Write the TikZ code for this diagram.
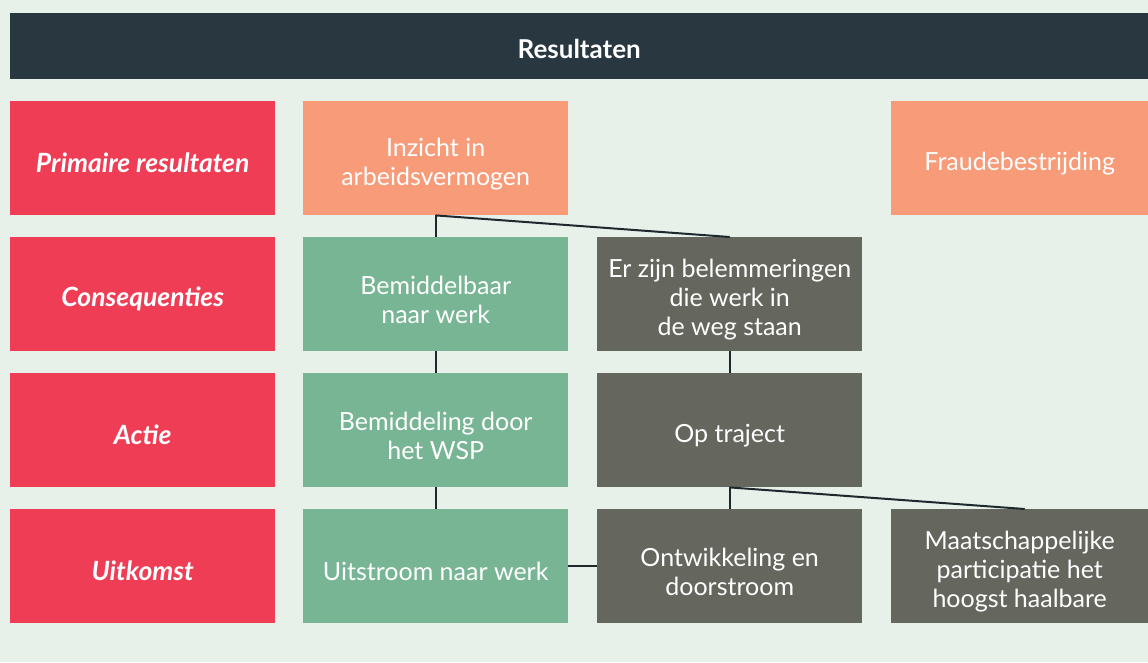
\documentclass[tikz,border=0pt]{standalone}
\usepackage{fontspec}
\setmainfont{Lato}
\definecolor{bg}{RGB}{231,241,234}
\definecolor{head}{RGB}{40,55,64}
\definecolor{c1}{RGB}{238,61,85}
\definecolor{c2}{RGB}{247,155,120}
\definecolor{c3}{RGB}{120,181,149}
\definecolor{c4}{RGB}{101,102,93}
\definecolor{lnk}{RGB}{31,40,44}

\begin{document}
\begin{tikzpicture}[
    x=1pt, y=-1pt,
    box/.style={
        anchor=north west, inner sep=0pt, align=flush center,
        minimum width=265pt, text width=265pt, minimum height=114pt,
        execute at begin node={\rule{0pt}{29.5pt}},
        text=white, font=\fontsize{25}{29}\selectfont
    },
    lbl/.style={
        box, fill=c1, font=\fontsize{26.5}{29}\selectfont\bfseries\itshape
    },
    prim/.style={box, fill=c2},
    good/.style={box, fill=c3},
    grey/.style={box, fill=c4},
    narrow/.style={minimum width=257pt, text width=257pt},
    link/.style={draw=lnk, line width=2pt}
]
    \useasboundingbox (0,0) rectangle (1148,662);
    \fill[bg] (0,0) rectangle (1148,662);

    % header
    \node (header) [anchor=north west, fill=head, inner sep=0pt,
        minimum width=1138pt, minimum height=66pt, text=white,
        execute at begin node={\rule{0pt}{25.5pt}},
        font=\fontsize{26}{29}\selectfont\bfseries] at (10,13) {Resultaten};

    % row labels
    \node (primair) [lbl] at (10,101) {Primaire resultaten};
    \node (conseq)  [lbl] at (10,237) {Consequenties};
    \node (actie)   [lbl] at (10,373) {Actie};
    \node (uitkomst)[lbl] at (10,509) {Uitkomst};

    % first row
    \node (inzicht) [prim] at (303,101) {Inzicht in\\arbeidsvermogen};
    \node (fraude)  [prim,narrow] at (891,101) {Fraudebestrijding};

    % left column
    \node (bemiddelbaar) [good] at (303,237) {Bemiddelbaar\\naar werk};
    \node (bemiddeling)  [good] at (303,373) {Bemiddeling door\\het WSP};
    \node (uitstroom)    [good] at (303,509) {Uitstroom naar werk};

    % right columns
    \node (belemmering)  [grey] at (597,237) {Er zijn belemmeringen\\die werk in\\de weg staan};
    \node (traject)      [grey] at (597,373) {Op traject};
    \node (ontwikkeling) [grey] at (597,509) {Ontwikkeling en\\doorstroom};
    \node (participatie) [grey,narrow] at (891,509) {Maatschappelijke\\participatie het\\hoogst haalbare};

    % connectors
    \draw[link] (inzicht.south) -- (bemiddelbaar.north);
    \draw[link] (inzicht.south) -- (belemmering.north);
    \draw[link] (bemiddelbaar.south) -- (bemiddeling.north);
    \draw[link] (bemiddeling.south) -- (uitstroom.north);
    \draw[link] (belemmering.south) -- (traject.north);
    \draw[link] (traject.south) -- (ontwikkeling.north);
    \draw[link] (traject.south) -- ([xshift=5pt]participatie.north);
    \draw[link] (uitstroom.east) -- (ontwikkeling.west);
\end{tikzpicture}
\end{document}
